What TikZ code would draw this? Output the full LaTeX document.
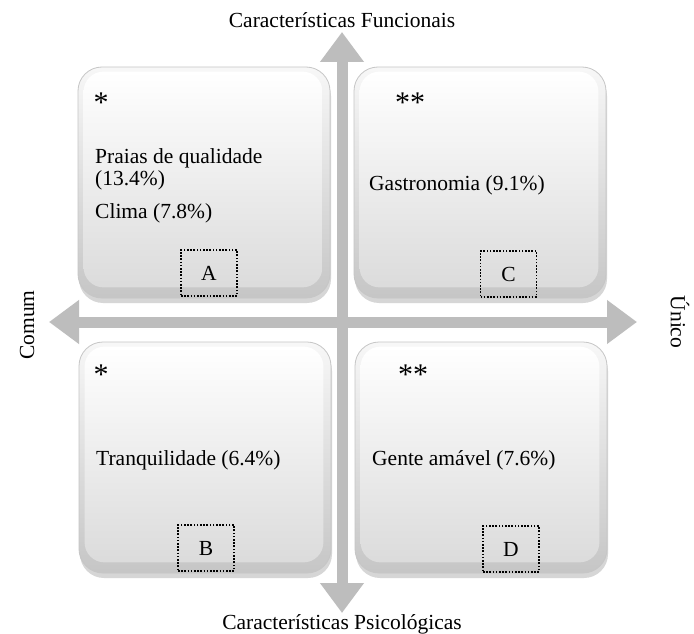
\documentclass[tikz,border=0pt]{standalone}
\usepackage{fontspec}
\setmainfont{Liberation Serif}
\usetikzlibrary{arrows.meta,shadows,calc}
\begin{document}
\begin{tikzpicture}[x=1pt,y=-1pt,
  every node/.style={font=\fontsize{21.5}{24}\selectfont, inner sep=0pt},
  axis/.style={line width=11pt, draw=gray!52, {Triangle[length=30pt,width=42pt]}-{Triangle[length=30pt,width=42pt]}},
  quad/.style={rounded corners=24pt, minimum width=252pt, minimum height=231pt,
    draw=gray!45, line width=0.8pt, top color=gray!6, bottom color=gray!45,
    drop shadow={shadow xshift=1pt, shadow yshift=-5pt, opacity=0.4, fill=gray!80}},
  bevel/.style={rounded corners=20pt, top color=white, bottom color=gray!28},
  tag/.style={draw, dash pattern=on 1.6pt off 1.6pt, line width=1.5pt, minimum width=56pt, minimum height=46pt},
  star/.style={font=\fontsize{30}{30}\selectfont},
  lbl/.style={anchor=west}
]
\useasboundingbox (0,0) rectangle (694,634);
\fill[white] (0,0) rectangle (694,634);

% axes
\coordinate (xl) at (49,322);
\coordinate (xr) at (637,322);
\coordinate (yt) at (342,32);
\coordinate (yb) at (342,613);
\draw[axis] (xl) -- (xr);
\draw[axis] (yt) -- (yb);

% quadrant boxes
\node[quad] (A) at (204,182.5) {};
\node[quad] (C) at (480,182.5) {};
\node[quad] (B) at (205,457.5) {};
\node[quad] (D) at (481,457.5) {};
\foreach \q in {A,C,B,D}{
  \shade[bevel] ($(\q.north west)+(6,5)$) rectangle ($(\q.south east)+(-8,-11)$);
}

% stars
\node[star] (sa) at (101,103) {*};
\node[star] (sc) at (410,103) {**};
\node[star] (sb) at (101,375) {*};
\node[star] (sd) at (413,375) {**};

% texts
\node[lbl] (a1) at (95,158) {Praias de qualidade};
\node[lbl] (a2) at (95,180) {(13.4\%)};
\node[lbl] (a3) at (95,213) {Clima (7.8\%)};
\node[lbl] (c1) at (369,185) {Gastronomia (9.1\%)};
\node[lbl] (b1) at (96,460) {Tranquilidade (6.4\%)};
\node[lbl] (d1) at (372,460) {Gente amável (7.6\%)};

% tags
\node[tag] (ta) at (209,273) {A};
\node[tag] (tc) at (508.5,274) {C};
\node[tag] (tb) at (206,548) {B};
\node[tag] (td) at (511,549) {D};

% axis titles
\node[anchor=base] (tf) at (342,28) {Características Funcionais};
\node[anchor=base] (tp) at (342,629) {Características Psicológicas};
\node[rotate=90] (cm) at (27,325) {Comum};
\node[rotate=-90] (un) at (680,322) {Único};
\end{tikzpicture}
\end{document}
